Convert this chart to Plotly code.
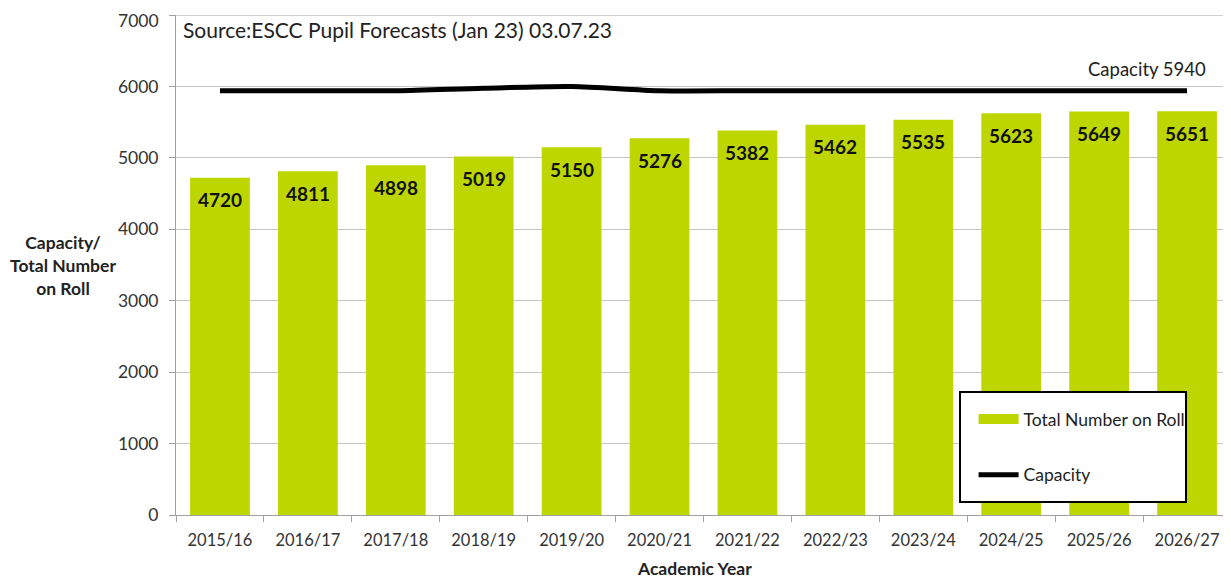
import plotly.graph_objects as go

years = ["2015/16", "2016/17", "2017/18", "2018/19", "2019/20", "2020/21",
         "2021/22", "2022/23", "2023/24", "2024/25", "2025/26", "2026/27"]
total_on_roll = [4720, 4811, 4898, 5019, 5150, 5276, 5382, 5462, 5535, 5623, 5649, 5651]
capacity = [5940, 5940, 5940, 5975, 6000, 5940, 5940, 5940, 5940, 5940, 5940, 5940]
y_ticks = [0, 1000, 2000, 3000, 4000, 5000, 6000, 7000]

FONT = "Lato, 'Open Sans', sans-serif"
BAR_COLOR = "#BED600"
YTICK_SIZE = 17.5

# page body has an 8px margin: compensate so plot area lands where the reference has it
W, H = 1223, 571

fig = go.Figure()
fig.add_trace(go.Bar(
    x=years, y=total_on_roll, name="Total Number on Roll",
    marker=dict(color=BAR_COLOR, line=dict(width=0)),
    width=0.68, showlegend=False,
))
# legend swatch for the bars (wide rectangle as in the reference)
fig.add_trace(go.Scatter(
    x=[None], y=[None], name="Total Number on Roll", mode="lines",
    line=dict(color=BAR_COLOR, width=10), legendgroup="a",
))
fig.add_trace(go.Scatter(
    x=years, y=capacity, name="Capacity", mode="lines",
    line=dict(color="black", width=5, shape="spline", smoothing=0.8),
    legendgroup="b",
))

for yr, v in zip(years, total_on_roll):
    fig.add_annotation(
        x=yr, y=v, text=f"<b>{v}</b>", showarrow=False,
        yanchor="middle", yshift=-22,
        font=dict(family=FONT, size=19, color="#111111"),
    )

fig.update_layout(
    width=W, height=H,
    margin=dict(l=168, r=0, t=7, b=64),
    paper_bgcolor="white", plot_bgcolor="white",
    font=dict(family=FONT, size=16, color="#333333"),
    showlegend=True,
    legend=dict(
        x=0.756, y=0.228, xanchor="left", yanchor="top",
        borderwidth=0, bgcolor="rgba(0,0,0,0)",
        font=dict(family=FONT, size=17.5, color="#222222"),
        tracegroupgap=30,
        itemwidth=40,
    ),
    xaxis=dict(
        type="category",
        showline=True, linecolor="#A0A0A0", linewidth=1,
        ticks="outside", tickson="boundaries", ticklen=6, tickcolor="#A0A0A0",
        tickfont=dict(family=FONT, size=16.5, color="#333333"),
        ticklabelstandoff=10,
        showgrid=False,
    ),
    yaxis=dict(
        range=[0, 7000], tickvals=y_ticks,
        showline=True, linecolor="#A0A0A0", linewidth=1,
        ticks="outside", ticklen=6, tickcolor="#A0A0A0",
        showgrid=True, gridcolor="#C4C4C4", gridwidth=1,
        tickfont=dict(family=FONT, size=YTICK_SIZE, color="#333333"),
        ticklabelstandoff=7,
        zeroline=False,
    ),
)

# top border line of plot area
fig.add_shape(type="line", xref="paper", yref="y", x0=0, x1=1, y0=7000, y1=7000,
              line=dict(color="#A0A0A0", width=1))
# legend box
fig.add_shape(type="rect", xref="paper", yref="paper",
              x0=(960 - 176) / 1055, x1=(1186 - 176) / 1055,
              y0=(515 - 502) / 500, y1=(515 - 392) / 500,
              line=dict(color="black", width=2), fillcolor="white", layer="above")

# top tick label (plotly hides it because it touches the page edge)
fig.add_annotation(
    text=str(y_ticks[-1]), xref="paper", yref="y", x=0, y=y_ticks[-1],
    xanchor="right", yanchor="middle", xshift=-15, yshift=-5, showarrow=False,
    font=dict(family=FONT, size=YTICK_SIZE, color="#333333"),
)

fig.add_annotation(
    text="<b>Capacity/<br>Total Number<br>on Roll</b>",
    xref="paper", yref="paper", x=-0.107, y=0.5, xanchor="center", yanchor="middle",
    showarrow=False, align="center",
    font=dict(family=FONT, size=17.5, color="#222222"),
)
fig.add_annotation(
    text="<b>Academic Year</b>",
    xref="paper", yref="paper", x=(694 - 176) / 1055, y=-0.106,
    xanchor="center", yanchor="middle", showarrow=False,
    font=dict(family=FONT, size=17.5, color="#222222"),
)
fig.add_annotation(
    text="Source:ESCC Pupil Forecasts (Jan 23) 03.07.23",
    xref="paper", yref="paper", x=0.005, y=1.0, xanchor="left", yanchor="top",
    showarrow=False, font=dict(family=FONT, size=21, color="#222222"),
)
fig.add_annotation(
    text="Capacity 5940",
    xref="paper", yref="y", x=0.978, y=6060, xanchor="right", yanchor="bottom",
    showarrow=False, font=dict(family=FONT, size=18.5, color="#222222"),
)

fig.write_html("out.html")
